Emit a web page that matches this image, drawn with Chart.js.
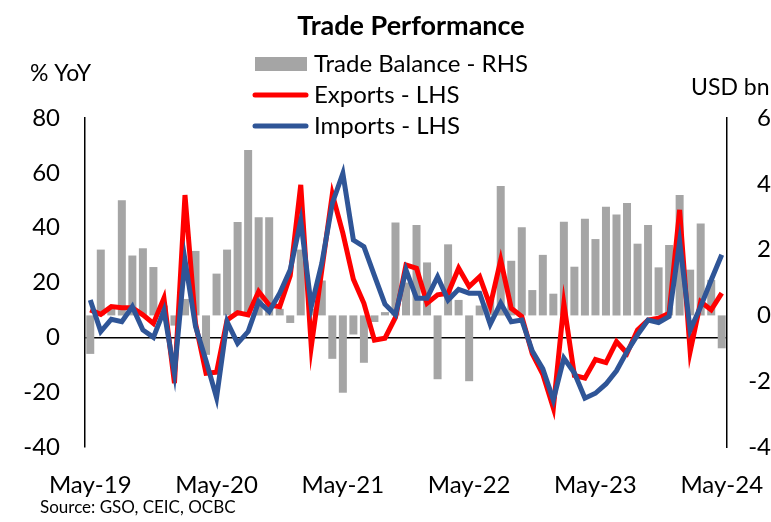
<!DOCTYPE html>
<html>
<head>
<meta charset="utf-8">
<title>Trade Performance</title>
<script src="https://cdn.jsdelivr.net/npm/chart.js@4/dist/chart.umd.min.js"></script>
<style>
    html, body { margin: 0; padding: 0; background: #fff; }
    #wrap { width: 771px; height: 522px; }
</style>
</head>
<body>
<div id="wrap"><canvas id="tradeChart" width="771" height="522"></canvas></div>
<script>
const FONT = 'Lato, "Open Sans", sans-serif';

const months = [
    'May-19','Jun-19','Jul-19','Aug-19','Sep-19','Oct-19','Nov-19','Dec-19',
    'Jan-20','Feb-20','Mar-20','Apr-20','May-20','Jun-20','Jul-20','Aug-20','Sep-20','Oct-20','Nov-20','Dec-20',
    'Jan-21','Feb-21','Mar-21','Apr-21','May-21','Jun-21','Jul-21','Aug-21','Sep-21','Oct-21','Nov-21','Dec-21',
    'Jan-22','Feb-22','Mar-22','Apr-22','May-22','Jun-22','Jul-22','Aug-22','Sep-22','Oct-22','Nov-22','Dec-22',
    'Jan-23','Feb-23','Mar-23','Apr-23','May-23','Jun-23','Jul-23','Aug-23','Sep-23','Oct-23','Nov-23','Dec-23',
    'Jan-24','Feb-24','Mar-24','Apr-24','May-24'
];

// % YoY, LHS
const exportsYoY = [
    10.0, 8.4, 11.2, 10.8, 10.8, 8.2, 5.1, 14.3,
    -16.7, 51.9, 5.0, -13.1, -12.7, 6.3, 9.0, 8.2, 16.7, 11.8, 11.2, 22.5,
    55.6, -3.4, 24.6, 52.2, 38.0, 21.2, 12.4, -1.0, -0.3, 7.3, 26.4, 25.2,
    12.4, 15.5, 16.1, 25.2, 18.5, 22.1, 11.5, 28.2, 10.6, 7.6, -6.0, -13.5,
    -25.8, 12.2, -13.9, -14.9, -8.1, -9.2, -1.6, -5.8, 2.7, 6.3, 7.0, 8.8,
    46.5, -5.2, 13.0, 10.0, 16.1
];

const importsYoY = [
    13.6, 2.1, 6.6, 5.7, 11.2, 2.7, 0.0, 9.8,
    -13.1, 28.2, 4.0, -8.5, -22.0, 5.7, -2.2, 2.1, 13.0, 9.4, 16.1, 24.6,
    42.5, 11.2, 27.0, 48.9, 59.8, 35.5, 33.1, 22.5, 12.1, 8.2, 24.6, 14.3,
    14.3, 22.1, 13.6, 17.5, 16.1, 16.1, 4.8, 12.5, 5.7, 6.3, -5.0, -11.5,
    -22.8, -7.6, -13.0, -22.2, -20.4, -17.0, -12.2, -5.2, 0.9, 6.3, 5.4, 7.6,
    34.9, 2.7, 11.2, 20.9, 30.1
];

// USD bn, RHS
const tradeBalance = [
    -1.17, 2.0, 0.2, 3.5, 1.82, 2.04, 1.47, 0.3,
    -0.31, 0.5, 1.96, -1.2, 1.27, 2.0, 2.84, 5.03, 2.98, 2.98, 0.2, -0.23,
    2.0, 0.2, 1.06, -1.32, -2.35, -0.58, -1.44, -0.2, 0.1, 2.82, 1.0, 2.75,
    1.61, -1.94, 2.16, 0.47, -2.0, 0.3, 0.5, 3.93, 1.66, 2.68, 0.77, 1.84,
    0.66, 2.85, 1.48, 2.94, 2.32, 3.3, 3.07, 3.42, 2.18, 2.75, 1.46, 2.14,
    3.66, 1.39, 2.79, 1.08, -1.0
];

const xTickLabels = ['May-19', 'May-20', 'May-21', 'May-22', 'May-23', 'May-24'];
const leftTicks = [-40, -20, 0, 20, 40, 60, 80];
const rightTicks = [-4, -2, 0, 2, 4, 6];

// title, legend, units and source drawn straight onto the canvas
const chartText = {
    id: 'chartText',
    afterDraw(chart) {
        const ctx = chart.ctx;
        ctx.save();
        ctx.fillStyle = '#000';
        ctx.textBaseline = 'middle';

        ctx.font = 'bold 27px ' + FONT;
        ctx.textAlign = 'center';
        ctx.fillText('Trade Performance', 411, 26);

        ctx.font = '24px ' + FONT;
        ctx.textAlign = 'left';
        const rows = [64, 95, 126];
        chart.data.datasets.forEach((ds, i) => {
            const y = rows[i];
            if (ds.type === 'bar') {
                ctx.fillStyle = ds.backgroundColor;
                ctx.fillRect(255, y - 7, 52, 14);
            } else {
                ctx.strokeStyle = ds.borderColor;
                ctx.lineWidth = 5;
                ctx.lineCap = 'round';
                ctx.beginPath();
                ctx.moveTo(255, y);
                ctx.lineTo(306, y);
                ctx.stroke();
            }
            ctx.fillStyle = '#000';
            ctx.fillText(ds.label, 314, y);
        });

        ctx.font = '23px ' + FONT;
        ctx.fillText('% YoY', 30, 74);
        ctx.fillText('USD bn', 691, 88);

        ctx.font = '17px ' + FONT;
        ctx.fillText('Source: GSO, CEIC, OCBC', 40, 508);
        ctx.restore();
    }
};

const ctx = document.getElementById('tradeChart').getContext('2d');
new Chart(ctx, {
    data: {
        labels: months,
        datasets: [{
            type: 'bar',
            label: 'Trade Balance - RHS',
            data: tradeBalance,
            backgroundColor: '#A5A5A5',
            yAxisID: 'y1',
            categoryPercentage: 1.0,
            barPercentage: 0.76,
            order: 3
        }, {
            type: 'line',
            label: 'Exports - LHS',
            data: exportsYoY,
            borderColor: '#FF0000',
            borderWidth: 5,
            pointRadius: 0,
            tension: 0,
            yAxisID: 'y',
            order: 2
        }, {
            type: 'line',
            label: 'Imports - LHS',
            data: importsYoY,
            borderColor: '#2F5597',
            borderWidth: 5,
            pointRadius: 0,
            tension: 0,
            yAxisID: 'y',
            order: 1
        }]
    },
    options: {
        responsive: false,
        animation: false,
        devicePixelRatio: 1,
        layout: { autoPadding: false, padding: { top: 118, right: 0, bottom: 15, left: 0 } },
        plugins: {
            legend: { display: false },
            title: { display: false },
            tooltip: { enabled: false }
        },
        scales: {
            x: {
                offset: true,
                grid: { display: false, drawTicks: false },
                border: { display: false },
                afterFit: scale => {
                    scale.height = 60;
                    scale.paddingLeft = 0;
                    scale.paddingRight = 0;
                },
                ticks: {
                    autoSkip: false,
                    maxRotation: 0,
                    padding: 24,
                    color: '#000',
                    font: { family: FONT, size: 24 },
                    callback: function(value) {
                        const lab = this.getLabelForValue(value);
                        return xTickLabels.includes(lab) ? lab : '';
                    }
                }
            },
            y: {
                position: 'left',
                min: leftTicks[0],
                max: leftTicks[leftTicks.length - 1],
                afterFit: scale => {
                    scale.width = 85;
                    scale.paddingTop = 0;
                    scale.paddingBottom = 0;
                },
                afterBuildTicks: scale => { scale.ticks = leftTicks.map(v => ({ value: v })); },
                border: { display: true, color: '#000', width: 1.5 },
                grid: {
                    drawTicks: false,
                    lineWidth: 1.5,
                    color: c => (c.tick && c.tick.value === 0 ? '#000' : 'rgba(0,0,0,0)')
                },
                ticks: {
                    padding: 25,
                    color: '#000',
                    font: { family: FONT, size: 24 }
                }
            },
            y1: {
                position: 'right',
                min: rightTicks[0],
                max: rightTicks[rightTicks.length - 1],
                afterFit: scale => {
                    scale.width = 44;
                    scale.paddingTop = 0;
                    scale.paddingBottom = 0;
                },
                afterBuildTicks: scale => { scale.ticks = rightTicks.map(v => ({ value: v })); },
                border: { display: true, color: '#000', width: 1.5 },
                grid: { display: false, drawTicks: false },
                ticks: {
                    padding: 12,
                    crossAlign: 'far',
                    color: '#000',
                    font: { family: FONT, size: 24 }
                }
            }
        }
    },
    plugins: [chartText]
});
</script>
</body>
</html>
